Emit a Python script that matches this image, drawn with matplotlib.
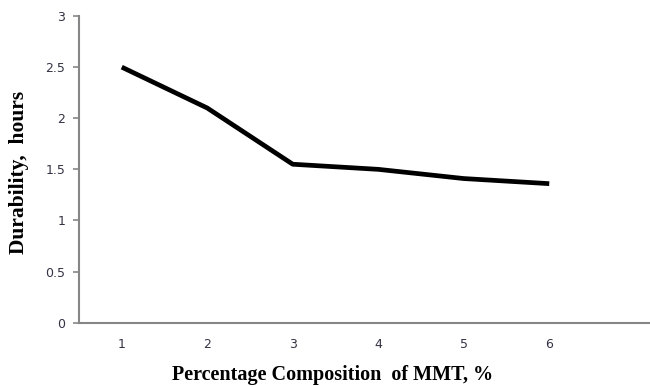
import matplotlib.pyplot as plt

# datos
mmt = [1, 2, 3, 4, 5, 6]
durabilidad = [2.5, 2.1, 1.55, 1.5, 1.41, 1.36]
yticks = [0, 0.5, 1, 1.5, 2, 2.5, 3]

fig = plt.figure(figsize=(6.5, 3.87), dpi=100)
ax = fig.add_axes([79 / 650, (387 - 322.7) / 387, 1 - 79 / 650, (322.7 - 16) / 387])

ax.plot(mmt, durabilidad, color='black', linewidth=3.4, solid_capstyle='butt')

ax.set_xlim(0.5, 0.5 + (650 - 79) / 85.5)
ax.set_ylim(0, 3)
ax.set_xticks(mmt)
ax.set_yticks(yticks)
ax.set_yticklabels(['0', '0.5', '1', '1.5', '2', '2.5', '3'])

for s in ['top', 'right']:
    ax.spines[s].set_visible(False)
for s in ['left', 'bottom']:
    ax.spines[s].set_color('#868686')
    ax.spines[s].set_linewidth(1.5)

ax.tick_params(axis='x', length=0, pad=11, labelsize=9, labelcolor='#333344')
ax.tick_params(axis='y', length=4, width=1.2, color='#868686', pad=6, labelsize=9, labelcolor='#333344')

ax.set_xlabel('Percentage Composition  of MMT, %', fontfamily='Liberation Serif',
              fontweight='bold', fontsize=14.5)
ax.set_ylabel('Durability,  hours', fontfamily='Liberation Serif',
              fontweight='bold', fontsize=15.5)
# centrar etiquetas como en el original
ax.xaxis.set_label_coords((333 - 79) / (650 - 79), -(375 - 322.7) / 306.7)
ax.yaxis.set_label_coords(-(79 - 19) / 571, (322.7 - 172) / 306.7)
ax.xaxis.label.set_va('center')
ax.yaxis.label.set_va('center')

plt.savefig('out.png', dpi=100)
